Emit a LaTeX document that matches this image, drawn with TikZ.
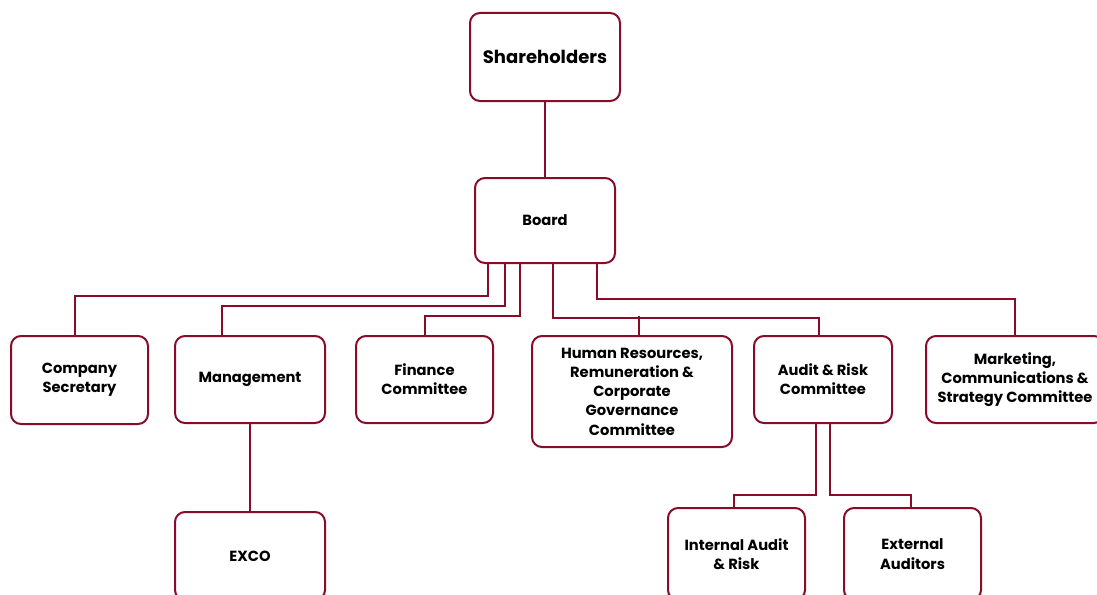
\documentclass[tikz,border=0pt]{standalone}
\usepackage{fontspec}
\setmainfont{Poppins}
\usetikzlibrary{calc}
\definecolor{wine}{RGB}{135,12,40}
\tikzset{
  box/.style={draw=wine, line width=2pt, rounded corners=10pt, fill=white,
    inner sep=0pt, align=center, font=\fontsize{14.7}{19.3}\selectfont\bfseries},
  conn/.style={draw=wine, line width=2pt},
}
\begin{document}
\begin{tikzpicture}[x=1pt,y=-1pt]
\useasboundingbox (0,0) rectangle (1097,594);
\node[box, minimum width=150, minimum height=88, font=\fontsize{18}{22}\selectfont\bfseries] (sh) at (545,57) {Shareholders};
\node[box, minimum width=140, minimum height=85] (board) at (545,220.5) {Board};
\node[box, minimum width=137, minimum height=88] (cs) at (79.5,380) {Company\\Secretary};
\node[box, minimum width=150, minimum height=87] (mg) at (250,379.5) {Management};
\node[box, minimum width=137, minimum height=87] (fc) at (424.5,379.5) {Finance\\Committee};
\node[box, minimum width=200, minimum height=111] (hr) at (632,391.5) {Human Resources,\\Remuneration \&\\Corporate\\Governance\\Committee};
\node[box, minimum width=138, minimum height=87] (ar) at (823,379.5) {Audit \& Risk\\Committee};
\node[box, minimum width=178, minimum height=87] (mk) at (1015,379.5) {Marketing,\\Communications \&\\Strategy Committee};
\node[box, minimum width=150, minimum height=88] (ex) at (250,556) {EXCO};
\node[box, minimum width=137, minimum height=92] (ia) at (736.5,554) {Internal Audit\\\& Risk};
\node[box, minimum width=137, minimum height=92] (ea) at (912.5,554) {External\\Auditors};
\draw[conn] (sh.south) -- (board.north);
\draw[conn] ([xshift=-57pt]board.south) -- ++(0,32) -| ([xshift=-4.5pt]cs.north);
\draw[conn] ([xshift=-40pt]board.south) -- ++(0,42) -| ([xshift=-28pt]mg.north);
\draw[conn] ([xshift=-25pt]board.south) -- ++(0,52) -| (fc.north);
\draw[conn] ([xshift=8pt]board.south) -- ++(0,54) -| ([xshift=-4pt]ar.north);
\draw[conn] ([xshift=7pt]hr.north) -- ++(0,-19);
\draw[conn] ([xshift=52pt]board.south) -- ++(0,35) -| (mk.north);
\draw[conn] (mg.south) -- (ex.north);
\draw[conn] ([xshift=-7pt]ar.south) -- ++(0,71) -| ([xshift=-2.5pt]ia.north);
\draw[conn] ([xshift=7pt]ar.south) -- ++(0,71) -| ([xshift=-1.5pt]ea.north);
\end{tikzpicture}
\end{document}
